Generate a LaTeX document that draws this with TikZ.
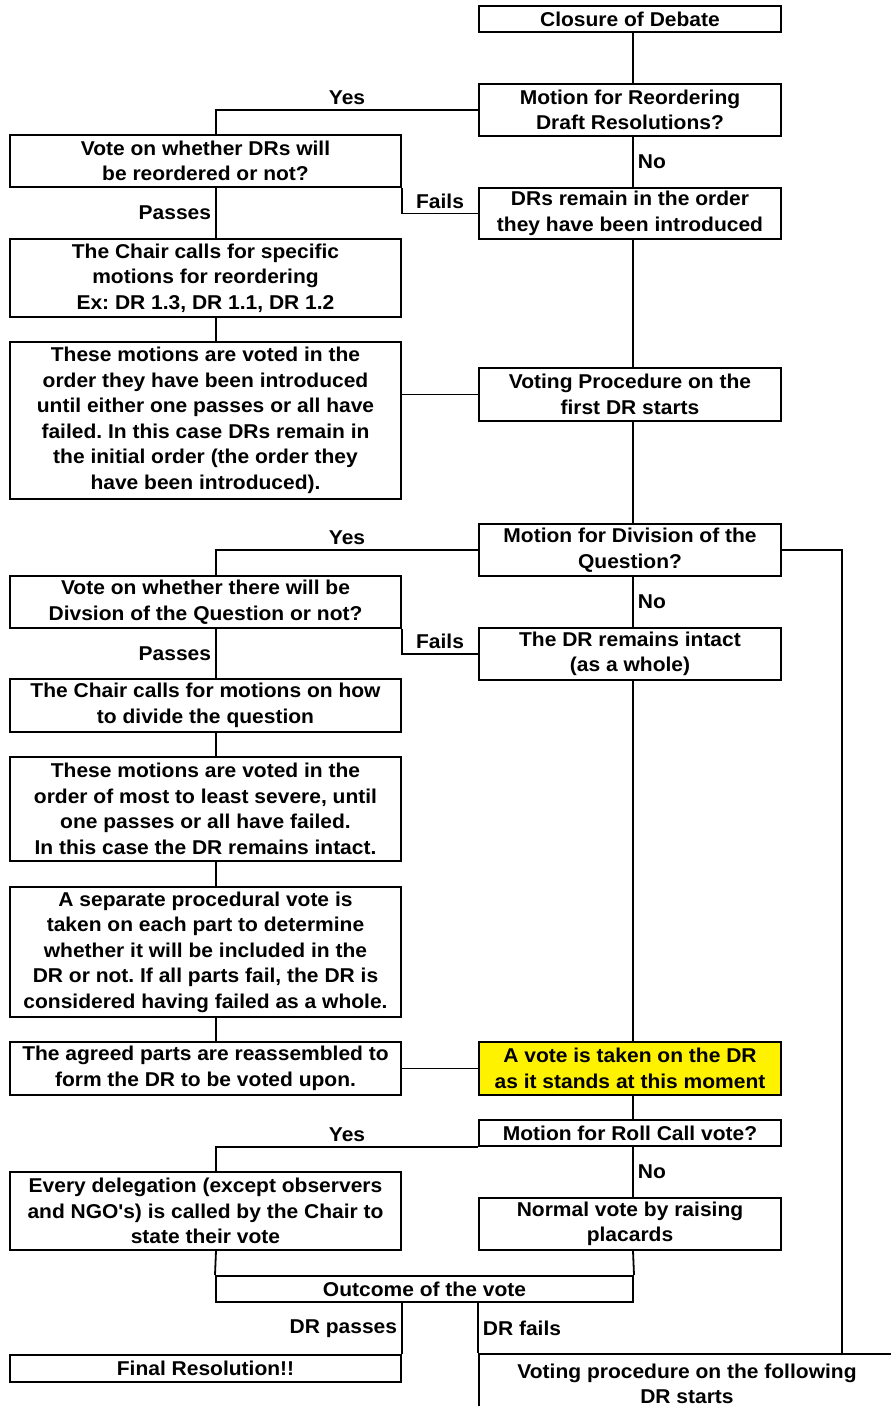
\documentclass[tikz,border=0pt]{standalone}
\usepackage{fontspec}
\setmainfont{Liberation Sans}[FakeStretch=1.05]
\frenchspacing
\begin{document}
\begin{tikzpicture}[x=1pt,y=-1pt,
  box/.style={draw, line width=2pt, fill=white, inner sep=0pt, align=center,
    font=\fontsize{20}{25.5}\selectfont\bfseries},
  lbox/.style={box, minimum width=391pt},
  rbox/.style={box, minimum width=302pt},
  conn/.style={line width=1.8pt},
  lab/.style={inner sep=4pt, font=\fontsize{20}{25.5}\selectfont\bfseries}]
\clip (0,0) rectangle (891,1406);
\fill[white] (0,0) rectangle (891,1406);
\coordinate (lx) at (216,0);
\coordinate (rx) at (633,0);
\coordinate (fx) at (842,0);

\node[rbox, minimum height=26pt] (closure) at (630,19) {Closure of Debate};
\node[rbox, minimum height=52pt] (mreorder) at (630,110) {Motion for Reordering\\Draft Resolutions?};
\node[lbox, minimum height=52pt] (votereorder) at (205.5,161) {Vote on whether DRs will\\be reordered or not?};
\node[rbox, minimum height=51pt] (remain) at (630,213.5) {DRs remain in the order\\they have been introduced};
\node[lbox, minimum height=78pt] (chair1) at (205.5,278) {The Chair calls for specific\\motions for reordering\\Ex: DR 1.3, DR 1.1, DR 1.2};
\node[lbox, minimum height=157pt] (these1) at (205.5,420.5) {These motions are voted in the\\order they have been introduced\\until either one passes or all have\\failed. In this case DRs remain in\\the initial order (the order they\\have been introduced).};
\node[rbox, minimum height=53pt] (votingfirst) at (630,394.5) {Voting Procedure on the\\first DR starts};
\node[rbox, minimum height=52pt] (mdiv) at (630,550) {Motion for Division of the\\Question?};
\node[lbox, minimum height=52pt] (votediv) at (205.5,602) {Vote on whether there will be\\Divsion of the Question or not?};
\node[rbox, minimum height=52pt] (intact) at (630,654) {The DR remains intact\\(as a whole)};
\node[lbox, minimum height=53pt] (chair2) at (205.5,705.5) {The Chair calls for motions on how\\to divide the question};
\node[lbox, minimum height=104pt] (these2) at (205.5,809) {These motions are voted in the\\order of most to least severe, until\\one passes or all have failed.\\In this case the DR remains intact.};
\node[lbox, minimum height=130pt] (separate) at (205.5,952) {A separate procedural vote is\\taken on each part to determine\\whether it will be included in the\\DR or not. If all parts fail, the DR is\\considered having failed as a whole.};
\node[lbox, minimum height=53pt] (agreed) at (205.5,1068.5) {The agreed parts are reassembled to\\form the DR to be voted upon.};
\node[rbox, minimum height=53pt, fill=yellow] (taken) at (630,1068.5) {A vote is taken on the DR\\as it stands at this moment};
\node[rbox, minimum height=26pt] (rollcall) at (630,1133) {Motion for Roll Call vote?};
\node[lbox, minimum height=78pt] (every) at (205.5,1211) {Every delegation (except observers\\and NGO\textquotesingle s) is called by the Chair to\\state their vote};
\node[rbox, minimum height=52pt] (normal) at (630,1224) {Normal vote by raising\\placards};
\node[box, minimum width=417pt, minimum height=26pt] (outcome) at (424.5,1289) {Outcome of the vote};
\node[lbox, minimum height=27pt] (final) at (205.5,1368.5) {Final Resolution!!};
\node[box, minimum width=416pt, minimum height=60pt] (following) at (687,1384) {Voting procedure on the following\\DR starts};

\draw[conn] (closure.south -| rx) -- (mreorder.north -| rx);
\draw[conn] (mreorder.west) -| (votereorder.north -| lx) node[pos=.25, lab, above] {Yes};
\draw[conn] (mreorder.south -| rx) -- node[lab, right] {No} (remain.north -| rx);
\draw[conn] (votereorder.south east) |- node[pos=.75, lab, above] {Fails} (remain.west);
\draw[conn] (votereorder.south -| lx) -- node[lab, left] {Passes} (chair1.north -| lx);
\draw[conn] (chair1.south -| lx) -- (these1.north -| lx);
\draw[conn] (votingfirst.west) -- (votingfirst.west -| these1.east);
\draw[conn] (remain.south -| rx) -- (votingfirst.north -| rx);
\draw[conn] (votingfirst.south -| rx) -- (mdiv.north -| rx);
\draw[conn] (mdiv.west) -| (votediv.north -| lx) node[pos=.25, lab, above] {Yes};
\draw[conn] (mdiv.east) -| (following.north -| fx);
\draw[conn] (mdiv.south -| rx) -- node[lab, right] {No} (intact.north -| rx);
\draw[conn] (votediv.south east) |- node[pos=.75, lab, above] {Fails} (intact.west);
\draw[conn] (votediv.south -| lx) -- node[lab, left] {Passes} (chair2.north -| lx);
\draw[conn] (chair2.south -| lx) -- (these2.north -| lx);
\draw[conn] (these2.south -| lx) -- (separate.north -| lx);
\draw[conn] (separate.south -| lx) -- (agreed.north -| lx);
\draw[conn] (intact.south -| rx) -- (taken.north -| rx);
\draw[conn] (agreed.east) -- (taken.west);
\draw[conn] (taken.south -| rx) -- (rollcall.north -| rx);
\draw[conn] (rollcall.south west) -| (every.north -| lx) node[pos=.25, lab, above] {Yes};
\draw[conn] (rollcall.south -| rx) -- node[lab, right] {No} (normal.north -| rx);
\draw[conn] (every.south -| lx) -- (outcome.north west);
\draw[conn] (normal.south -| rx) -- (outcome.north east);
\draw[conn] (outcome.south -| final.north east) -- node[lab, left] {DR passes} (final.north east);
\draw[conn] (outcome.south -| following.north west) -- node[lab, right] {DR fails} (following.north west);
\end{tikzpicture}
\end{document}
